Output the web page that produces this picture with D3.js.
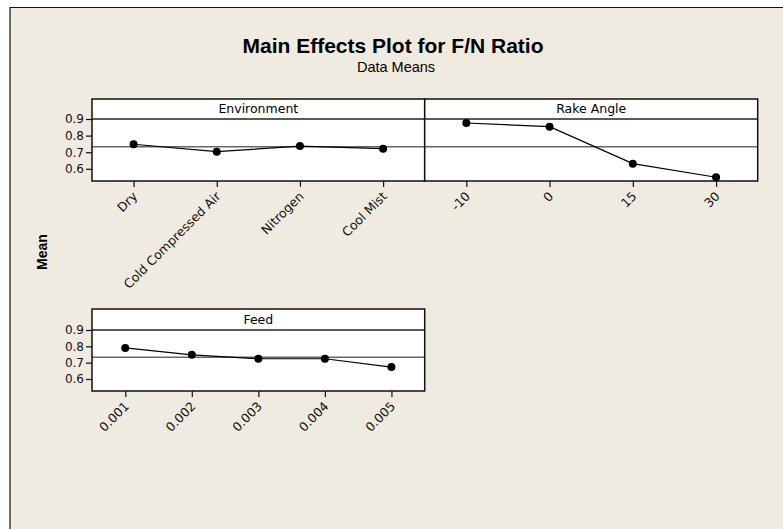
<!DOCTYPE html>
<html>
<head>
<meta charset="utf-8">
<script src="https://cdn.jsdelivr.net/npm/d3@7"></script>
<style>
  body { margin: 0; background: #fff; }
  svg { display: block; }
  text { font-family: "DejaVu Sans", "Liberation Sans", sans-serif; }
</style>
</head>
<body>
<script>
// main effects means
let envLevels = ['Dry', 'Cold Compressed Air', 'Nitrogen', 'Cool Mist']
let envMeans = [0.748, 0.703, 0.737, 0.721]
let rakeLevels = ['-10', '0', '15', '30']
let rakeMeans = [0.876, 0.854, 0.631, 0.549]
let feedLevels = ['0.001', '0.002', '0.003', '0.004', '0.005']
let feedMeans = [0.790, 0.748, 0.724, 0.724, 0.673]
let yTicks = [0.6, 0.7, 0.8, 0.9]
let yDomain = [0.5265, 0.9]
let grandMean = 0.733

let width = 783, height = 529

let svg = d3.select('body').append('svg')
  .attr('width', width)
  .attr('height', height)

// page background + frame (only top/left visible)
svg.append('rect')
  .attr('x', 10).attr('y', 7)
  .attr('width', width - 10).attr('height', height - 7)
  .attr('fill', '#efebe1')
svg.append('path')
  .attr('d', `M10,${height}V7.5H${width}`)
  .attr('fill', 'none')
  .attr('stroke', '#111')
  .attr('stroke-width', 1.2)

// titles
svg.append('text')
  .attr('x', 393).attr('y', 53)
  .attr('text-anchor', 'middle')
  .style('font-family', '"Liberation Sans", Arial, sans-serif')
  .style('font-weight', 'bold')
  .style('font-size', '21px')
  .text('Main Effects Plot for F/N Ratio')
svg.append('text')
  .attr('x', 396).attr('y', 72)
  .attr('text-anchor', 'middle')
  .style('font-family', '"Liberation Sans", Arial, sans-serif')
  .style('font-size', '14.5px')
  .text('Data Means')

svg.append('text')
  .attr('transform', 'translate(47,252) rotate(-90)')
  .attr('text-anchor', 'middle')
  .style('font-family', '"Liberation Sans", Arial, sans-serif')
  .style('font-weight', 'bold')
  .style('font-size', '14px')
  .text('Mean')

// panel layout
let panels = [
  { name: 'Environment', levels: envLevels, means: envMeans, x0: 92, x1: 424.7, top: 99, head: 119, bottom: 181, yAxis: true },
  { name: 'Rake Angle', levels: rakeLevels, means: rakeMeans, x0: 424.7, x1: 757.7, top: 99, head: 119, bottom: 181, yAxis: false },
  { name: 'Feed', levels: feedLevels, means: feedMeans, x0: 92, x1: 424.7, top: 309, head: 330, bottom: 391, yAxis: true }
]

panels.forEach(p => {
  let g = svg.append('g')

  let x = d3.scalePoint()
    .domain(p.levels)
    .range([p.x0, p.x1])
    .padding(0.5)
  let y = d3.scaleLinear()
    .domain(yDomain)
    .range([p.bottom, p.head])

  g.append('rect')
    .attr('x', p.x0).attr('y', p.top)
    .attr('width', p.x1 - p.x0).attr('height', p.bottom - p.top)
    .attr('fill', '#fff')

  // grand mean reference line
  g.append('line')
    .attr('x1', p.x0).attr('x2', p.x1)
    .attr('y1', y(grandMean)).attr('y2', y(grandMean))
    .attr('stroke', '#666')
    .attr('stroke-width', 1.5)

  // header strip
  g.append('line')
    .attr('x1', p.x0).attr('x2', p.x1)
    .attr('y1', p.head).attr('y2', p.head)
    .attr('stroke', '#222')
    .attr('stroke-width', 1.5)
  g.append('text')
    .attr('x', (p.x0 + p.x1) / 2)
    .attr('y', (p.top + p.head) / 2)
    .attr('dy', '0.35em')
    .attr('text-anchor', 'middle')
    .style('font-size', '12.5px')
    .text(p.name)

  // means line + points
  let pts = p.levels.map((l, i) => [x(l), y(p.means[i])])
  g.append('path')
    .attr('d', d3.line()(pts))
    .attr('fill', 'none')
    .attr('stroke', '#000')
    .attr('stroke-width', 1.2)
  g.selectAll('circle')
    .data(pts)
    .enter()
    .append('circle')
    .attr('cx', d => d[0])
    .attr('cy', d => d[1])
    .attr('r', 4)
    .attr('fill', '#000')

  g.append('rect')
    .attr('x', p.x0).attr('y', p.top)
    .attr('width', p.x1 - p.x0).attr('height', p.bottom - p.top)
    .attr('fill', 'none')
    .attr('stroke', '#111')
    .attr('stroke-width', 1.5)

  // x axis, labels turned 45 degrees
  let xAxis = g.append('g')
    .attr('transform', `translate(0,${p.bottom})`)
    .call(d3.axisBottom(x).tickSize(6).tickSizeOuter(0))
  xAxis.select('.domain').remove()
  xAxis.selectAll('line').attr('stroke', '#111').attr('stroke-width', 1.2)
  xAxis.selectAll('text')
    .attr('fill', '#111')
    .style('font-size', '12.5px')
    .style('font-family', '"DejaVu Sans", sans-serif')
    .attr('text-anchor', 'end')
    .attr('x', 0).attr('y', 0)
    .attr('dx', 0).attr('dy', '0.35em')
    .attr('transform', 'translate(1,13) rotate(-45)')

  if (p.yAxis) {
    let yAxis = g.append('g')
      .attr('transform', `translate(${p.x0},0)`)
      .call(d3.axisLeft(y).tickValues(yTicks).tickFormat(d3.format('.1f')).tickSize(6).tickPadding(2))
    yAxis.select('.domain').remove()
    yAxis.selectAll('line').attr('stroke', '#111').attr('stroke-width', 1.2)
    yAxis.selectAll('text')
      .attr('fill', '#111')
      .style('font-size', '12px')
      .style('font-family', '"DejaVu Sans", sans-serif')
  }
})
</script>
</body>
</html>
